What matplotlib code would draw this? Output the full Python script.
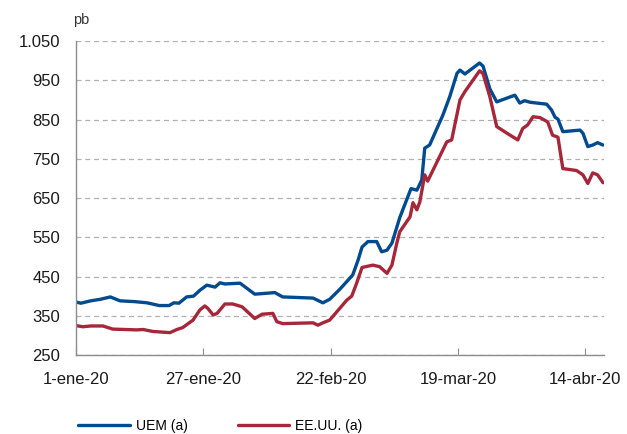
import matplotlib
matplotlib.use("Agg")
import matplotlib.pyplot as plt
from matplotlib.ticker import FuncFormatter, FixedLocator
import numpy as np

# days elapsed since 1-ene-20 and spread in basis points
uem_days = [0, 1, 3, 5, 7, 9, 12, 14.5, 17, 19, 20, 21, 22.6, 24, 25.3, 26.7, 28.4,
            29.4, 30.4, 33.5, 36.5, 40.6, 42.2, 48.4, 50.4, 51.8, 53.9, 56.5, 57.6,
            58.4, 59.6, 61.4, 62.4, 63.5, 64.5, 66.1, 68.4, 69.6, 70.6, 71.2, 72.2,
            74.9, 76.3, 77.8, 78.4, 79.4, 82.4, 83.1, 84.5, 85.9, 89.6, 90.6, 91.6,
            92.7, 96.1, 97.1, 97.8, 98.4, 99.4, 102.9, 103.5, 104.5, 105.5, 106.5, 107.6]
uem_vals = [385, 382, 388, 392, 398, 388, 386, 383, 376, 376, 383, 382, 398, 400, 415,
            428, 423, 434, 431, 433, 405, 409, 398, 395, 383, 392, 418, 454, 492,
            525, 539, 539, 513, 517, 535, 600, 674, 670, 696, 777, 785,
            861, 908, 968, 976, 966, 994, 986, 928, 895, 912, 892, 898,
            894, 889, 874, 856, 851, 819, 823, 815, 781, 785, 791, 785]

usa_days = [0, 1.4, 3, 5.5, 7.5, 12.4, 13.7, 15.7, 19.2, 20.6, 21.8, 23.9, 25.3, 26.3,
            26.9, 28, 28.8, 30.4, 32, 33.9, 36.5, 38, 40.2, 41, 42.2, 48.4, 49.4,
            50.4, 51.8, 55.3, 56.3, 57.3, 58.4, 60.6, 62, 63.5, 64.5, 65.5, 66.1,
            68.2, 68.8, 69.6, 70.2, 71.2, 71.8, 75.7, 76.7, 78.4, 79.4, 82.4, 83.1,
            84.5, 85.9, 88, 90.2, 91.2, 92.2, 93.3, 94.7, 96.3, 97.3, 98.4, 99.4,
            102.2, 103.5, 104.5, 105.5, 106.5, 107.6]
usa_vals = [325, 322, 324, 324, 316, 314, 315, 310, 307, 315, 320, 339, 365, 375,
            369, 352, 356, 380, 380, 373, 343, 354, 356, 335, 330, 332, 326,
            332, 339, 390, 400, 433, 473, 479, 475, 458, 479, 535, 564,
            602, 638, 620, 640, 709, 693, 793, 798, 900, 921, 974, 967,
            908, 832, 815, 798, 827, 836, 857, 855, 844, 810, 805, 725,
            720, 709, 687, 714, 709, 689]

tick_days = [0, 26, 52, 78, 104]
tick_labels = ["1-ene-20", "27-ene-20", "22-feb-20", "19-mar-20", "14-abr-20"]

BLUE = "#004a8f"
RED = "#a6263a"
GRAY = "#8c8c8c"

plt.rcParams["font.family"] = ["Liberation Sans", "DejaVu Sans"]

fig = plt.figure(figsize=(6.27, 4.34), dpi=100)
ax = fig.add_axes([0.1212, 0.182, 0.8421, 0.7235])

ax.plot(uem_days, uem_vals, color=BLUE, lw=2.4, label="UEM (a)",
        solid_joinstyle="round", solid_capstyle="round")
ax.plot(usa_days, usa_vals, color=RED, lw=2.4, label="EE.UU. (a)",
        solid_joinstyle="round", solid_capstyle="round")

ax.set_xlim(0, 107.8)
ax.set_ylim(250, 1050)
ax.yaxis.set_major_locator(FixedLocator(np.arange(250, 1051, 100)))
ax.yaxis.set_major_formatter(FuncFormatter(lambda v, p: f"{v:,.0f}".replace(",", ".")))
ax.set_xticks(tick_days)
ax.set_xticklabels(tick_labels)

ax.grid(axis="y", color="#b0b0b0", linestyle=(0, (4, 3)), linewidth=0.9)
ax.set_axisbelow(True)
for side in ["top", "right"]:
    ax.spines[side].set_visible(False)
for side in ["left", "bottom"]:
    ax.spines[side].set_color(GRAY)
    ax.spines[side].set_linewidth(1.0)

ax.tick_params(axis="y", length=0, labelsize=12, pad=11.5, colors="#1a1a1a")
ax.tick_params(axis="x", direction="in", length=5, color=GRAY, labelsize=12,
               pad=12, labelcolor="#1a1a1a")

ax.text(-0.005, 1.045, "pb", transform=ax.transAxes, fontsize=10.5,
        color="#333333", ha="left", va="bottom")

fig.legend(loc="lower left", bbox_to_anchor=(0.105, -0.026), ncol=2, frameon=False,
           handlelength=3.7, handletextpad=0.45, columnspacing=3.6,
           prop={"family": ["Liberation Sans", "DejaVu Sans"], "size": 10})

fig.savefig("out.png", dpi=100)
